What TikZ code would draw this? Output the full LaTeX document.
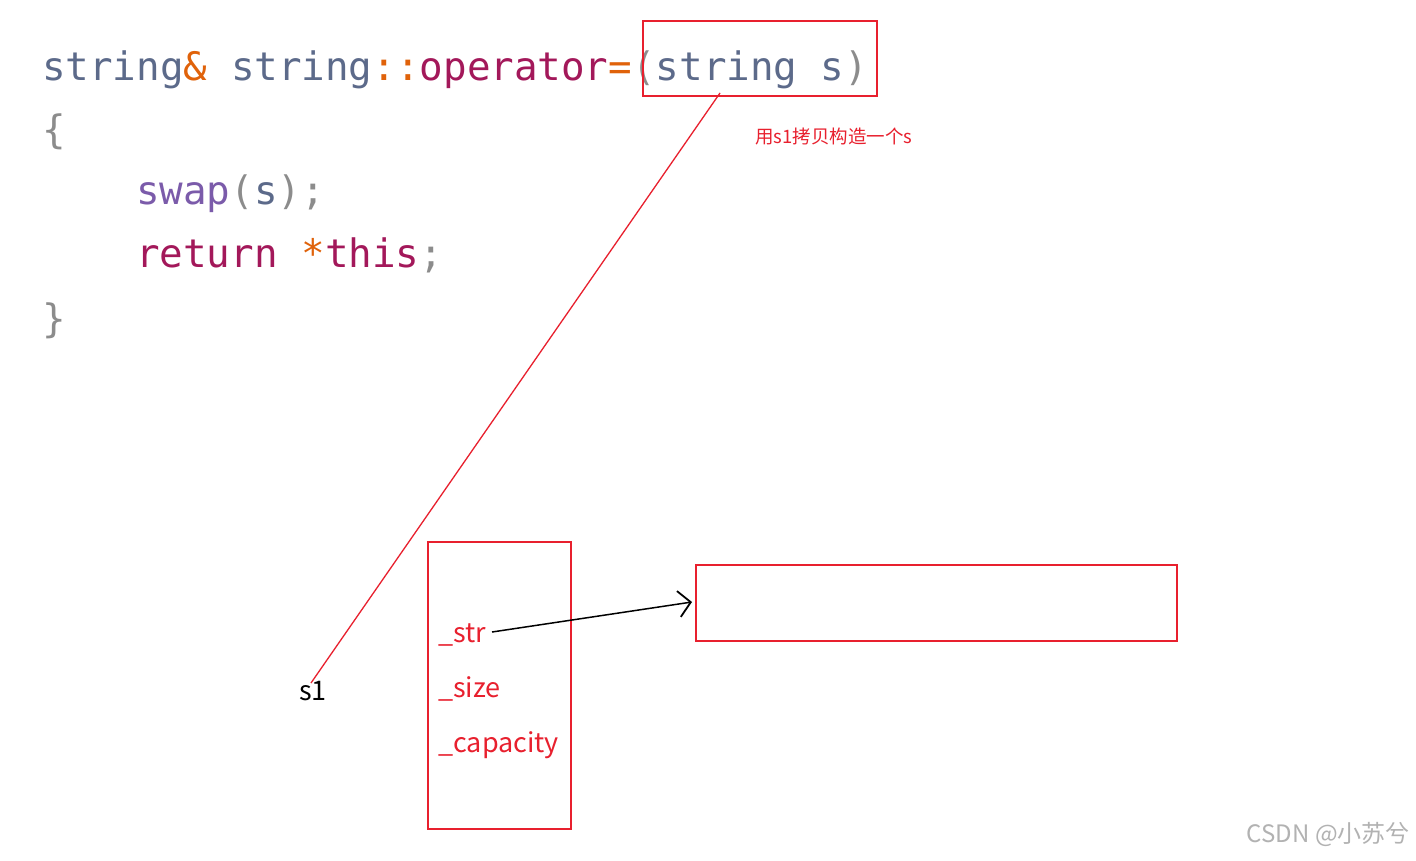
\documentclass[tikz,border=0pt]{standalone}
\usepackage{fontspec}
\setmainfont{Liberation Sans}
\newfontfamily\codefont{DejaVu Sans Mono}
\newfontfamily\cjk{Noto Sans CJK SC}
\usetikzlibrary{arrows.meta}
\definecolor{cty}{HTML}{5C6A8A}
\definecolor{cop}{HTML}{E0620A}
\definecolor{ckw}{HTML}{A3185A}
\definecolor{cfn}{HTML}{7B5BAA}
\definecolor{cpu}{HTML}{8C8C8C}
\definecolor{cred}{HTML}{E8202E}
\begin{document}
\begin{tikzpicture}[x=1pt,y=-1pt,
  code/.style={anchor=base west,inner sep=0,font=\codefont\fontsize{39.2}{39}\selectfont},
  lbl/.style={anchor=base west,inner sep=0,text=cred,font=\cjk\fontsize{27}{27}\selectfont},
  box/.style={draw=cred,line width=1.6pt}]
\useasboundingbox (0,0) rectangle (1416,860);
\fill[white] (0,0) rectangle (1416,860);
\node[code] (l1) at (42,80) {\textcolor{cty}{string}\textcolor{cop}{\&} \textcolor{cty}{string}\textcolor{cop}{::}\textcolor{ckw}{operator}\textcolor{cop}{=}\textcolor{cpu}{(}\textcolor{cty}{string s}\textcolor{cpu}{)}};
\node[code] (l2) at (42,143) {\textcolor{cpu}{\{}};
\node[code] (l3) at (136,204) {\textcolor{cfn}{swap}\textcolor{cpu}{(}\textcolor{cty}{s}\textcolor{cpu}{);}};
\node[code] (l4) at (136,267) {\textcolor{ckw}{return} \textcolor{cop}{*}\textcolor{ckw}{this}\textcolor{cpu}{;}};
\node[code] (l5) at (42,332) {\textcolor{cpu}{\}}};
\node[box,minimum width=234pt,minimum height=75pt,inner sep=0] (param) at (760,58.5) {};
\node[anchor=base west,inner sep=0,text=cred,font=\cjk\fontsize{18.5}{18.5}\selectfont] (note) at (755,143) {用s1拷贝构造一个s};
\node[box,minimum width=143pt,minimum height=287pt,inner sep=0] (obj) at (499.5,685.5) {};
\node[box,minimum width=481pt,minimum height=76pt,inner sep=0] (buf) at (936.5,603) {};
\node[lbl] (str) at (438,642) {\_str};
\node[lbl] (size) at (438,697) {\_size};
\node[lbl] (cap) at (438,752) {\_capacity};
\node[anchor=base west,inner sep=0,font=\cjk\fontsize{27}{27}\selectfont] (s1) at (299,700) {s1};
\coordinate (pa) at (720,93);
\coordinate (sa) at (311,683);
\draw[cred,line width=1.3pt] (pa) -- (sa);
\coordinate (st) at (492,632);
\coordinate (bt) at (692,602);
\draw[line width=1.5pt,-{Straight Barb[length=12pt,width=26pt,line width=1.8pt]}] (st) -- (bt);
\node[anchor=base east,inner sep=0,text=black!30,font=\cjk\fontsize{24}{24}\selectfont] (wm) at (1410,842) {CSDN @小苏兮};
\end{tikzpicture}
\end{document}
